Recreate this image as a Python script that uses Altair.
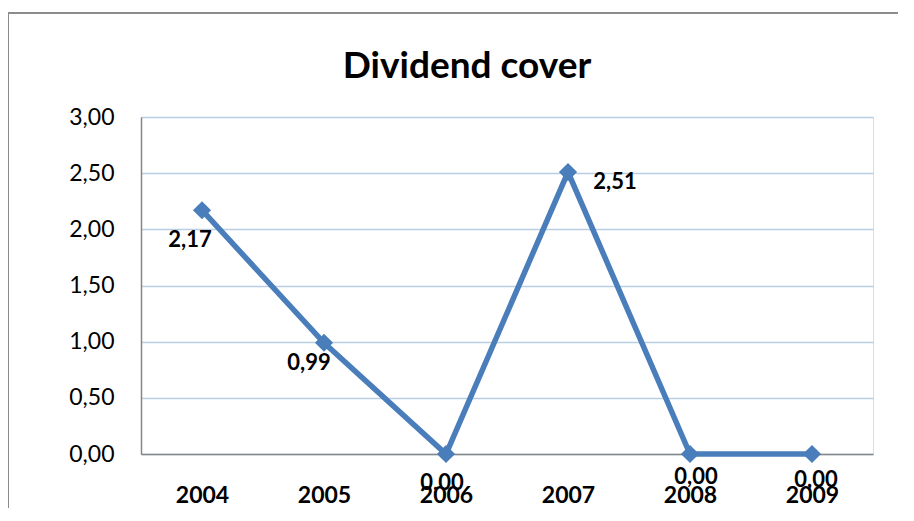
import altair as alt
import pandas as pd

# ---- data ----
years = ["2004", "2005", "2006", "2007", "2008", "2009"]
cover = [2.17, 0.99, 0.00, 2.51, 0.00, 0.00]
y_ticks = [0.0, 0.5, 1.0, 1.5, 2.0, 2.5, 3.0]
chart_title = "Dividend cover"

df = pd.DataFrame({"year": years, "cover": cover})

BLUE = "#4A7EBB"
GRID = "#B9CDE5"
AXIS_GRAY = "#868686"
FONT = "Lato"

# label offsets (pixels) per category, like Excel's manually placed data labels
label_offsets = {
    "2004": (-12, 30),
    "2005": (-15, 20),
    "2006": (-4, 29),
    "2007": (47, 10),
    "2008": (6, 23),
    "2009": (4, 26),
}

x_enc = alt.X(
    "year:N",
    sort=years,
    axis=alt.Axis(
        title=None,
        labelAngle=0,
        labelFont=FONT,
        labelFontSize=23,
        labelFontWeight="bold",
        labelColor="black",
        labelPadding=30,
        ticks=False,
        domainColor=AXIS_GRAY,
        domainWidth=1.5,
        grid=False,
    ),
)
y_enc = alt.Y(
    "cover:Q",
    scale=alt.Scale(domain=[0, 3], nice=False),
    axis=alt.Axis(
        title=None,
        values=y_ticks,
        labelExpr="replace(format(datum.value, '.2f'), '.', ',')",
        labelFont=FONT,
        labelFontSize=23,
        labelColor="black",
        labelPadding=27,
        ticks=False,
        domainColor=AXIS_GRAY,
        domainWidth=1.5,
        grid=True,
        gridColor=GRID,
        gridWidth=1.5,
    ),
)

base = alt.Chart(df)

line = base.mark_line(color=BLUE, strokeWidth=5.5).encode(x=x_enc, y=y_enc)
points = base.mark_point(
    shape="diamond", size=330, filled=True, color=BLUE, opacity=1
).encode(x=x_enc, y=y_enc)

label_layers = []
for yr in years:
    dx, dy = label_offsets[yr]
    label_layers.append(
        base.transform_filter(alt.datum.year == yr)
        .transform_calculate(lab="replace(format(datum.cover, '.2f'), '.', ',')")
        .mark_text(
            font=FONT,
            fontSize=22,
            fontWeight="bold",
            color="black",
            align="center",
            baseline="middle",
            dx=dx,
            dy=dy,
        )
        .encode(x=x_enc, y=y_enc, text="lab:N")
    )

# outer chart-area border (decorative frame, like Excel's chart area): left and top edges
frame_src = alt.Chart(alt.Data(values=[{}]))
border_top = frame_src.mark_rule(color="#8C8C8C", strokeWidth=2).encode(
    x=alt.value(-133), x2=alt.value(757), y=alt.value(-104)
)
border_left = frame_src.mark_rule(color="#8C8C8C", strokeWidth=2).encode(
    x=alt.value(-133), y=alt.value(-104), y2=alt.value(410)
)

chart = (
    alt.layer(border_top, border_left, line, points, *label_layers)
    .properties(
        width=732,
        height=337,
        autosize=alt.AutoSizeParams(type="none"),
        padding={"left": 133, "top": 109, "right": 25, "bottom": 54},
        title=alt.TitleParams(
            text=chart_title,
            font=FONT,
            fontSize=37,
            fontWeight="bold",
            color="black",
            anchor="middle",
            frame="group",
            baseline="alphabetic",
            offset=0,
            dx=-40,
            dy=103,
        ),
    )
    .configure_view(stroke=None)
    .configure(background="white")
)

chart.save("out.html", embed_options={"renderer": "svg", "actions": False})
